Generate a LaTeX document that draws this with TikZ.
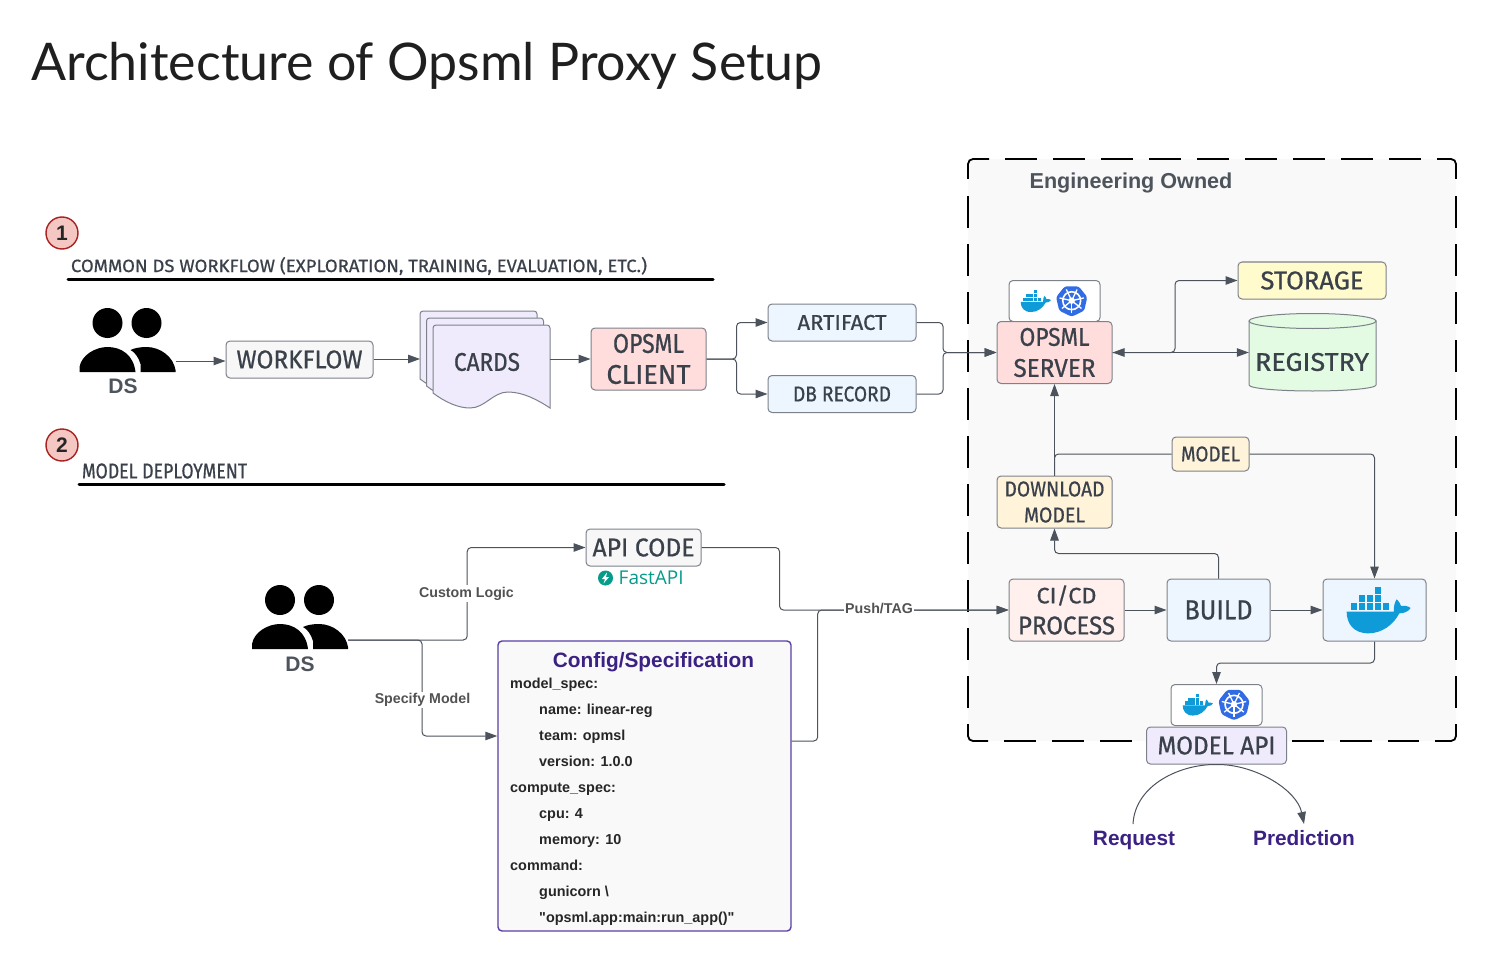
\documentclass[tikz,border=0pt]{standalone}
\usepackage{fontspec}
\usepackage{graphicx}
\setmainfont[Ligatures=TeXOff]{Liberation Sans}
\newfontfamily\handfont[FakeBold=0.7]{Fira Sans}
\newfontfamily\titlefont{Lato}
\newfontfamily\fastfont{Open Sans}
\usetikzlibrary{arrows.meta,calc}
\definecolor{inkc}{HTML}{3A414A}
\definecolor{linec}{HTML}{4C535D}
\definecolor{edgec}{HTML}{7D828A}
\definecolor{purp}{HTML}{3B2183}
\definecolor{purpb}{HTML}{5A3EA6}
\definecolor{dockc}{HTML}{0E9BD8}
\definecolor{kubec}{HTML}{326CE5}
\definecolor{fastc}{HTML}{059C8A}
\definecolor{cardf}{HTML}{EFEBFC}
\definecolor{bluef}{HTML}{EDF5FF}
\definecolor{sandf}{HTML}{FFF3D9}
\definecolor{yelf}{HTML}{FFFBCC}
\definecolor{greenf}{HTML}{E3FAE3}
\definecolor{pinkf}{HTML}{FFDDDD}
\definecolor{rosef}{HTML}{FFF0EE}
\definecolor{badgef}{HTML}{F4C7C3}
\definecolor{badgeb}{HTML}{A82020}
\newcommand\hw[3]{\resizebox{#1pt}{#2pt}{\handfont\color{inkc}#3}}
\newcommand\dockerwhale[3]{%
\begin{scope}[shift={(#1,#2)},x=#3pt,y=-#3pt]
 \fill[dockc] (-95,5) -- (47,5) .. controls (45,-10) and (50,-25) .. (55,-32)
  .. controls (63,-25) and (67,-17) .. (68,-12) .. controls (77,-14) and (90,-12) .. (97,-6)
  .. controls (90,5) and (77,10) .. (63,10) .. controls (45,45) and (10,70) .. (-30,70)
  .. controls (-75,70) and (-95,40) .. (-95,5) -- cycle;
 \foreach \a in {-83,-59,-35,-11,13}{\fill[dockc] (\a,-20) rectangle ++(20,20);}
 \foreach \a in {-59,-35,-11}{\fill[dockc] (\a,-44) rectangle ++(20,20);}
 \fill[dockc] (-11,-68) rectangle ++(20,20);
\end{scope}}
\newcommand\kubewheel[3]{%
\begin{scope}[shift={(#1,#2)}]
 \fill[kubec,rounded corners=2.5pt] (90:#3)--(141.43:#3)--(192.86:#3)--(244.29:#3)--(295.71:#3)--(347.14:#3)--(38.57:#3)--cycle;
 \draw[white,line width=1.6pt] (0,0) circle[radius=0.56*#3];
 \foreach \a in {90,141.43,192.86,244.29,295.71,347.14,38.57}{\draw[white,line width=1.3pt] (0,0)--(\a:0.78*#3);}
 \fill[white] (0,0) circle[radius=0.2*#3];
\end{scope}}
\newcommand\personicon[2]{%
\begin{scope}[shift={(#1,#2)}]
 \fill[black] (0,0) circle[radius=15];
 \fill[black] (39,0) circle[radius=15];
 \fill[black] (-28,49) -- (-28,44) .. controls (-26,32) and (-12,24) .. (0,24) .. controls (14,24) and (26,32) .. (28,49) -- cycle;
 \fill[black] (33,49) -- (33,41) .. controls (31,34) and (27,29) .. (23,27) .. controls (27,25) and (33,24) .. (39,24) .. controls (53,24) and (66,34) .. (68,47) -- (68,49) -- cycle;
\end{scope}}
\newcommand\carddoc[2]{%
 \draw[boxline,fill=cardf] (#1,#2+68) [rounded corners=3pt] -- (#1,#2) -- (#1+117,#2) [sharp corners] -- (#1+117,#2+83)
  .. controls (#1+105,#2+75) and (#1+90,#2+67) .. (#1+75,#2+67)
  .. controls (#1+60,#2+67) and (#1+52,#2+83) .. (#1+37,#2+83)
  .. controls (#1+25,#2+83) and (#1+12,#2+77) .. (#1,#2+68) -- cycle;}
\tikzset{
 x=1pt,y=-1pt,
 tipc/.tip={Triangle[length=12pt,width=8.5pt]},
 boxline/.style={draw=edgec,line width=1pt},
 box/.style={boxline,rounded corners=4pt,inner sep=0pt,align=center,font=\fontsize{10}{31}\selectfont},
 greybox/.style={box,fill=black!3},
 pinkbox/.style={box,fill=pinkf},
 bluebox/.style={box,fill=bluef},
 yelbox/.style={box,fill=yelf},
 sandbox/.style={box,fill=sandf,font=\fontsize{10}{26}\selectfont},
 lilac/.style={box,fill=cardf},
 iconbox/.style={box,fill=white},
 arr/.style={draw=linec,line width=1pt,rounded corners=4pt,-tipc},
 arrboth/.style={draw=linec,line width=1pt,tipc-tipc},
 plain/.style={draw=linec,line width=1pt,rounded corners=4pt},
 badge/.style={circle,draw=badgeb,fill=badgef,line width=1.4pt,minimum size=32pt,inner sep=0pt,font=\fontsize{21}{21}\selectfont\bfseries,text=black!85},
 rulec/.style={draw=black,line width=3pt,line cap=round},
 edgelab/.style={fill=white,inner sep=1.5pt,font=\fontsize{14.2}{16}\selectfont\bfseries,text=black!68},
 dslab/.style={font=\fontsize{21}{21}\selectfont\bfseries,text=inkc!90!white},
 purplab/.style={font=\fontsize{20.8}{22}\selectfont\bfseries,text=purp},
 anch/.style={inner sep=0pt,minimum height=2pt},
 regdash/.style={draw=black,line width=1.8pt,dash pattern=on 32pt off 16pt},
 regcorner/.style={draw=black,line width=1.8pt,rounded corners=5pt},
}
\begin{document}
\begin{tikzpicture}
\useasboundingbox (0,0) rectangle (1506,976);
\fill[white] (0,0) rectangle (1506,976);
\node[anchor=base west,inner sep=0pt] (title) at (31,81) {\resizebox{791pt}{!}{\titlefont\color{black!88}Architecture of Opsml Proxy Setup}};
% region
\node[fill=black!2.5,rounded corners=4pt,minimum width=488pt,minimum height=582pt,inner sep=0pt] (region) at (1212,450) {};
\draw[regcorner] (989,159) -- (968,159) -- (968,179);
\draw[regcorner] (1437,159) -- (1456,159) -- (1456,179);
\draw[regcorner] (968,724) -- (968,741) -- (988,741);
\draw[regcorner] (1435,741) -- (1456,741) -- (1456,724);
\draw[regdash] (1005,159) -- (1421,159);
\draw[regdash] (968,196) -- (968,708);
\draw[regdash] (1456,196) -- (1456,708);
\draw[regdash] (1004,741) -- (1419,741);
\node[font=\fontsize{21.6}{24}\selectfont\bfseries,text=inkc!90!white,inner sep=0pt] (regionlabel) at (1131,183) {Engineering Owned};
% section headers
\node[badge] (b1) at (62,233) {1};
\node[badge] (b2) at (62,445) {2};
\node[inner sep=0pt] (h1) at (359,266) {\hw{576}{15}{COMMON DS WORKFLOW (EXPLORATION, TRAINING, EVALUATION, ETC.)}};
\node[inner sep=0pt] (h2) at (164.5,471) {\hw{165}{15}{MODEL DEPLOYMENT}};
\coordinate (r1a) at (68,279.5); \coordinate (r1b) at (713,279.5);
\coordinate (r2a) at (79,484); \coordinate (r2b) at (724,484);
\draw[rulec] (r1a) -- (r1b);
\draw[rulec] (r2a) -- (r2b);
% persons
\personicon{107.5}{323}
\personicon{280}{600}
\node[anch,minimum width=96pt] (ds1) at (127.5,361) {};
\node[anch,minimum width=96pt] (ds2) at (300,640) {};
\node[dslab,inner sep=0pt] (ds1l) at (123,386) {DS};
\node[dslab,inner sep=0pt] (ds2l) at (300,664) {DS};
% top row
\node[greybox,minimum width=147pt,minimum height=37pt] (workflow) at (299.5,359.5) {\hw{126}{18}{WORKFLOW}};
\carddoc{420}{311}
\carddoc{426.5}{318}
\carddoc{433}{325}
\node[inner sep=0pt] (cards) at (487,362) {\hw{66}{18}{CARDS}};
\coordinate (cardsW) at (420,359);
\coordinate (cardsE) at (550,359);
\node[pinkbox,minimum width=115pt,minimum height=62pt] (client) at (648.5,359) {\hw{71}{19}{OPSML}\\\hw{84}{19}{CLIENT}};
\node[bluebox,minimum width=148pt,minimum height=37pt] (artifact) at (842,322.5) {\hw{89}{15}{ARTIFACT}};
\node[bluebox,minimum width=148pt,minimum height=37pt] (dbrecord) at (842,394) {\hw{98}{15}{DB RECORD}};
% server
\node[iconbox,minimum width=91pt,minimum height=41pt] (srvicons) at (1054.5,301) {};
\dockerwhale{1035.7}{301}{0.158}
\kubewheel{1071.7}{300.7}{16}
\node[pinkbox,minimum width=115pt,minimum height=62pt] (server) at (1054.5,352.5) {\hw{70}{18}{OPSML}\\\hw{82}{18}{SERVER}};
\node[yelbox,minimum width=148pt,minimum height=37pt] (storage) at (1312,280.5) {\hw{103}{18}{STORAGE}};
\draw[boxline,fill=greenf] (1249,321) -- (1249,385) arc[start angle=180,end angle=0,x radius=63.5,y radius=6] -- (1376,321) -- cycle;
\draw[boxline,fill=greenf] (1312.5,321) ellipse[x radius=63.5,y radius=7.5];
\node[anch,minimum width=127pt,minimum height=77pt] (registry) at (1312.5,352.5) {};
\node[inner sep=0pt] (registryl) at (1312,362) {\hw{114}{18}{REGISTRY}};
\node[sandbox,minimum width=77pt,minimum height=34pt] (model) at (1210.5,454) {\hw{59}{15}{MODEL}};
\node[sandbox,minimum width=115pt,minimum height=52pt] (download) at (1054.5,502) {\hw{100}{15}{DOWNLOAD}\\\hw{61}{15}{MODEL}};
% pipeline
\node[box,fill=rosef,minimum width=115pt,minimum height=62pt] (cicd) at (1066.5,610) {\hw{60}{18}{CI/CD}\\\hw{97}{18}{PROCESS}};
\node[bluebox,minimum width=103pt,minimum height=62pt] (build) at (1218.5,610) {\hw{68}{19}{BUILD}};
\node[bluebox,minimum width=103pt,minimum height=62pt] (docker) at (1374.5,610) {};
\dockerwhale{1378.3}{610}{0.3333}
\node[iconbox,minimum width=91pt,minimum height=41pt] (apiicons) at (1216.5,705) {};
\dockerwhale{1197.7}{704.5}{0.158}
\kubewheel{1234}{704.3}{16}
\node[lilac,minimum width=140pt,minimum height=37pt] (modelapi) at (1216.5,745.5) {\hw{118}{18}{MODEL API}};
\node[purplab,inner sep=0pt,anchor=base] (request) at (1134,845) {Request};
\node[purplab,inner sep=0pt,anchor=base] (prediction) at (1304,845) {Prediction};
% lower left
\node[greybox,minimum width=115pt,minimum height=37pt] (apicode) at (643.5,547.5) {\hw{102}{18}{API CODE}};
\fill[fastc] (605.5,578) circle[radius=7.5];
\fill[white] (607,572.5) -- (602,579) -- (605,579) -- (603.5,583.5) -- (609,577) -- (606,577) -- cycle;
\node[anchor=base west,inner sep=0pt,font=\fontsize{19}{20}\selectfont\fastfont,text=fastc] (fastapi) at (618.5,584.5) {FastAPI};
\node[draw=purpb,line width=1.4pt,fill=black!2.5,rounded corners=4pt,minimum width=293pt,minimum height=290pt,inner sep=0pt] (config) at (644.5,786) {};
\node[font=\fontsize{20.8}{22}\selectfont\bfseries,text=purp,inner sep=0pt] (configt) at (653.5,662) {Config/Specification};
\node[anchor=north west,inner sep=0pt,align=left,font=\fontsize{14.4}{26}\selectfont\bfseries,text=black!85] (configb) at (510,677.5) {%
model\_spec:\\
\hspace*{29pt}name: linear-reg\\
\hspace*{29pt}team: opmsl\\
\hspace*{29pt}version: 1.0.0\\
compute\_spec:\\
\hspace*{29pt}cpu: 4\\
\hspace*{29pt}memory: 10\\
command:\\
\hspace*{29pt}gunicorn \textbackslash\\
\hspace*{29pt}"opsml.app:main:run\_app()"};
% connectors
\draw[arr] (ds1.east) -- (workflow.west |- ds1.east);
\draw[arr] (workflow.east |- cardsW) -- (cardsW);
\draw[arr] (cardsE) -- (client.west |- cardsE);
\draw[arr] (client.east) -- ++(30,0) |- (artifact.west);
\draw[arr] (client.east) -- ++(30,0) |- (dbrecord.west);
\coordinate (merge) at (943,352.5);
\draw[arr] (artifact.east) -| (merge) -- (server.west);
\draw[arr] (dbrecord.east) -| (merge) -- (server.west);
\draw[arrboth] (server.east) -- (registry.west);
\coordinate (split) at (1175,352.5);
\draw[arr] (server.east) -- (split) |- (storage.west);
\draw[arr] (download.north) -- (server.south);
\draw[plain] (download.north) |- (model.west);
\draw[arr] (model.east) -| (docker.north);
\draw[arr] (build.north) |- ($(download.south)+(0,25)$) -- (download.south);
\draw[arr] (cicd.east) -- (build.west);
\draw[arr] (build.east) -- (docker.west);
\draw[arr] (docker.south) |- ($(apiicons.north)+(0,-21)$) -- (apiicons.north);
\coordinate (reqtop) at (1133,824);
\draw[linec,line width=1pt,-tipc] (reqtop) .. controls (1135,785) and (1180,764) .. (modelapi.south) .. controls (1255,764) and (1297,790) .. (1304,824);
\draw[arr] (apicode.east) -- ++(78,0) |- (cicd.west);
\draw[arr] (config.east |- 0,741) -- ++(26,0) |- (cicd.west);
\draw[arr] (ds2.east) -- ++(119,0) |- (apicode.west);
\coordinate (dsfork) at (422,640);
\draw[arr] (ds2.east) -- (dsfork) |- (config.west |- 0,736);
\node[edgelab] (lcustom) at (466.5,593.5) {Custom Logic};
\node[edgelab] (lspecify) at (422.5,700) {Specify Model};
\node[edgelab] (lpush) at (879,608) {Push/TAG};
\end{tikzpicture}
\end{document}
